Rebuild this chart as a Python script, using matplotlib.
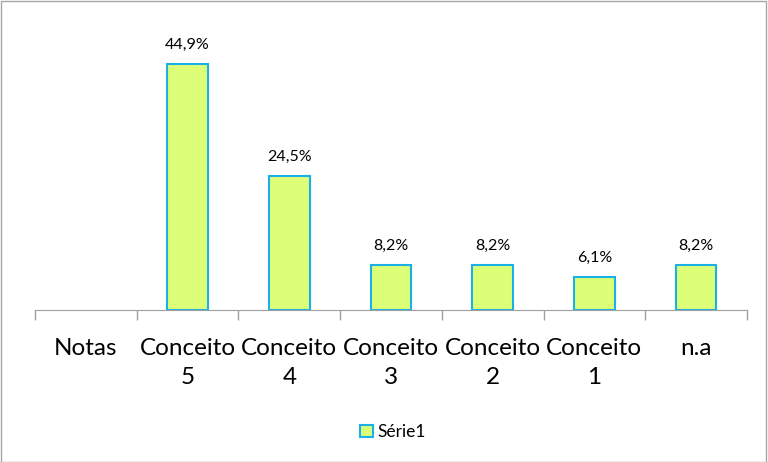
import matplotlib
matplotlib.use('Agg')
import numpy as np
from matplotlib import pyplot as plt
from matplotlib.patches import Rectangle

# dados
categorias = ['Notas', 'Conceito\n5', 'Conceito\n4', 'Conceito\n3', 'Conceito\n2', 'Conceito\n1', 'n.a']
valores = [np.nan, 44.9, 24.5, 8.2, 8.2, 6.1, 8.2]
rotulos = ['', '44,9%', '24,5%', '8,2%', '8,2%', '6,1%', '8,2%']
serie = 'Série1'

plt.rcParams['font.family'] = ['Lato', 'DejaVu Sans']

fig = plt.figure(figsize=(7.68, 4.62), dpi=100)
fig.patches.append(Rectangle((0.001, 0.001), 0.997, 0.997, transform=fig.transFigure,
                             fill=False, edgecolor='#a6a6a6', linewidth=1))

ax = fig.add_axes([35 / 768, 152 / 462, 712 / 768, 274 / 462])
x = np.arange(len(categorias))
barras = ax.bar(x, valores, width=0.4, color='#ddff77', edgecolor='#1ab0e8',
                linewidth=1.5, label=serie)

for xi, v, r in zip(x, valores, rotulos):
    if r:
        ax.text(xi, v + 2.2, r, ha='center', va='bottom', fontsize=11.5)

ax.set_xlim(-0.5, len(categorias) - 0.5)
ax.set_ylim(0, 50)
ax.set_xticks(x)
ax.set_xticklabels(categorias, fontsize=17.5, linespacing=1.5)
ax.set_xticks(np.arange(len(categorias) + 1) - 0.5, minor=True)
ax.tick_params(axis='x', which='major', length=0, pad=20)
ax.tick_params(axis='x', which='minor', length=7, color='#a0a0a0', width=1)
ax.set_yticks([])
for lado in ['top', 'right', 'left']:
    ax.spines[lado].set_visible(False)
ax.spines['bottom'].set_color('#a0a0a0')

leg = fig.legend(handles=[barras], labels=[serie], loc='center', bbox_to_anchor=(0.511, 1 - 432 / 462),
                 frameon=False, fontsize=12.5, handlelength=0.75, handleheight=0.75, handletextpad=0.25)

fig.savefig('out.png', dpi=100)
